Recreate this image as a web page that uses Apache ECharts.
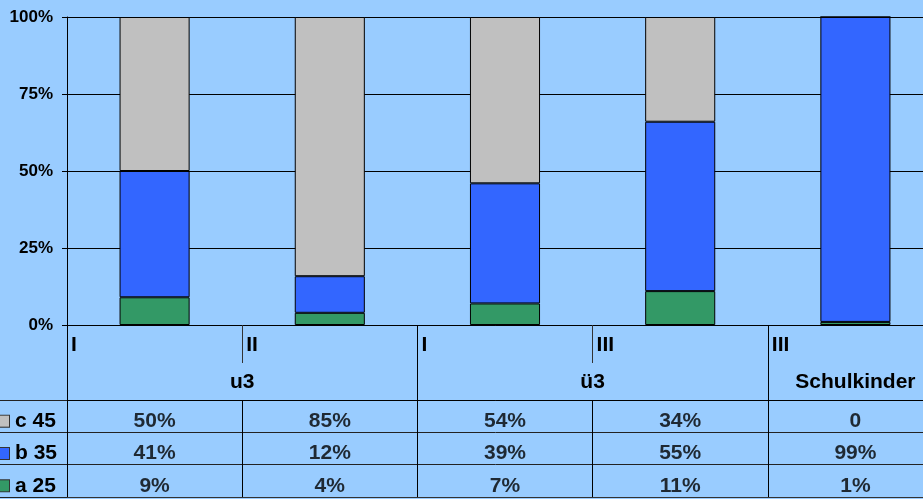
<!DOCTYPE html>
<html>
<head>
<meta charset="utf-8">
<script src="https://cdn.jsdelivr.net/npm/echarts@6/dist/echarts.min.js"></script>
<style>
html,body{margin:0;padding:0;background:#99CCFF;}
#c{width:923px;height:499px;}
</style>
</head>
<body>
<div id="c"></div>
<script>
// ---- data ----
const categories = ['I', 'II', 'I', 'III', 'III'];
const groups = ['u3', 'u3', 'ü3', 'ü3', 'Schulkinder'];
const rowNames = ['a 25', 'b 35', 'c 45'];
const valuesA = [9, 4, 7, 11, 1];
const valuesB = [41, 12, 39, 55, 99];
const valuesC = [50, 85, 54, 34, 0];
const yTickLabels = ['0%', '25%', '50%', '75%', '100%'];

// ---- derived ----
const totals = categories.map((_, i) => valuesA[i] + valuesB[i] + valuesC[i]);
const norm = arr => arr.map((v, i) => v / totals[i] * 100);
const groupCenters = [], groupNames = [], groupBounds = [0];
let s = 0;
for (let i = 1; i <= groups.length; i++) {
  if (i === groups.length || groups[i] !== groups[s]) {
    groupCenters.push((s + i) / 2);
    groupNames.push(groups[s]);
    groupBounds.push(i);
    s = i;
  }
}
const rowValues = [valuesA, valuesB, valuesC];
const rowColors = ['#339966', '#3366FF', '#C0C0C0'];
const tableData = [];
rowValues.forEach((arr, r) => arr.forEach((v, i) => tableData.push([i, r, v])));

const FONT = 'Liberation Sans, Arial, sans-serif';
const BLACK = '#000';
const TFS = 21;

const chart = echarts.init(document.getElementById('c'), null, {renderer: 'canvas'});
chart.setOption({
  animation: false,
  backgroundColor: '#99CCFF',
  textStyle: {fontFamily: FONT, fontWeight: 'bold', color: '#000'},
  grid: [
    {left: 67, top: 17, width: 876, height: 308, outerBoundsMode: 'none', containLabel: false},
    {left: 67, top: 400, width: 876, height: 97, outerBoundsMode: 'none', containLabel: false}
  ],
  xAxis: [
    {type: 'category', gridIndex: 0, data: categories, position: 'bottom',
     axisLine: {show: true, lineStyle: {color: BLACK, width: 1}},
     axisTick: {show: true, length: 38, lineStyle: {color: '#333', width: 1}},
     axisLabel: {show: false}, splitLine: {show: false}},
    {type: 'value', gridIndex: 0, min: 0, max: 5, position: 'bottom',
     axisLine: {show: false}, axisTick: {show: false}, splitLine: {show: false},
     axisLabel: {show: true, customValues: categories.map((_, i) => i),
       formatter: v => categories[Math.round(v)] || '',
       align: 'left', padding: [0, 0, 0, 4], margin: 10,
       fontSize: TFS, fontWeight: 'bold', fontFamily: FONT, color: '#000'}},
    {type: 'value', gridIndex: 0, min: 0, max: 5, position: 'bottom',
     axisLine: {show: false}, splitLine: {show: false},
     axisTick: {show: true, customValues: groupBounds, length: 75, lineStyle: {color: BLACK, width: 1}},
     axisLabel: {show: true, customValues: groupCenters,
       formatter: v => { const k = groupCenters.findIndex(c => Math.abs(c - v) < 1e-6); return k >= 0 ? groupNames[k] : ''; },
       margin: 47, fontSize: TFS, fontWeight: 'bold', fontFamily: FONT, color: '#000'}},
    {type: 'category', gridIndex: 1, data: categories, position: 'top',
     axisLine: {show: true, lineStyle: {color: BLACK, width: 1}},
     axisTick: {show: false}, axisLabel: {show: false},
     splitLine: {show: true, lineStyle: {color: BLACK, width: 1}}},
    {type: 'category', gridIndex: 1, data: categories, position: 'bottom',
     axisLine: {show: true, lineStyle: {color: '#333', width: 1}},
     axisTick: {show: false}, axisLabel: {show: false}, splitLine: {show: false}}
  ],
  yAxis: [
    {type: 'value', gridIndex: 0, min: 0, max: 100, interval: 25,
     axisLine: {show: true, lineStyle: {color: BLACK, width: 1}},
     axisTick: {show: true, length: 5, lineStyle: {color: BLACK}},
     splitLine: {show: true, lineStyle: {color: BLACK, width: 1}},
     axisLabel: {formatter: v => yTickLabels[Math.round(v / 25)], margin: 14, padding: [4, 0, 0, 0],
       fontSize: 17, fontWeight: 'bold', fontFamily: FONT, color: '#000'}},
    {type: 'category', gridIndex: 1, data: rowNames,
     axisLine: {show: true, lineStyle: {color: BLACK, width: 1}},
     axisTick: {show: true, length: 69, lineStyle: {color: '#222', width: 1}},
     splitLine: {show: true, lineStyle: {color: '#222', width: 1}},
     axisLabel: {align: 'left', margin: 69, padding: [10, 0, 0, 0],
       formatter: (v, i) => '{b' + i + '|}{t|' + v + '}',
       rich: {
         b0: {width: 11, height: 11, backgroundColor: rowColors[0], borderColor: '#333', borderWidth: 1},
         b1: {width: 11, height: 11, backgroundColor: rowColors[1], borderColor: '#333', borderWidth: 1},
         b2: {width: 11, height: 11, backgroundColor: rowColors[2], borderColor: '#333', borderWidth: 1},
         t: {fontSize: TFS, fontWeight: 'bold', fontFamily: FONT, color: '#000', padding: [0, 0, 0, 6]}
       }}}
  ],
  series: [
    {name: rowNames[0], type: 'bar', stack: 'tot', xAxisIndex: 0, yAxisIndex: 0, barWidth: '40%',
     data: norm(valuesA), itemStyle: {color: rowColors[0], borderColor: BLACK, borderWidth: 1}},
    {name: rowNames[1], type: 'bar', stack: 'tot', xAxisIndex: 0, yAxisIndex: 0, barWidth: '40%',
     data: norm(valuesB), itemStyle: {color: rowColors[1], borderColor: BLACK, borderWidth: 1}},
    {name: rowNames[2], type: 'bar', stack: 'tot', xAxisIndex: 0, yAxisIndex: 0, barWidth: '40%',
     data: norm(valuesC), itemStyle: {color: rowColors[2], borderColor: BLACK, borderWidth: 1}},
    {type: 'scatter', xAxisIndex: 3, yAxisIndex: 1, symbolSize: 1,
     itemStyle: {color: 'rgba(0,0,0,0)'},
     data: tableData,
     label: {show: true, position: 'inside', offset: [0, 5],
       formatter: p => p.value[2] === 0 ? '0' : p.value[2] + '%',
       fontSize: TFS, fontWeight: 'bold', fontFamily: FONT, color: '#000'}}
  ]
});
</script>
</body>
</html>
